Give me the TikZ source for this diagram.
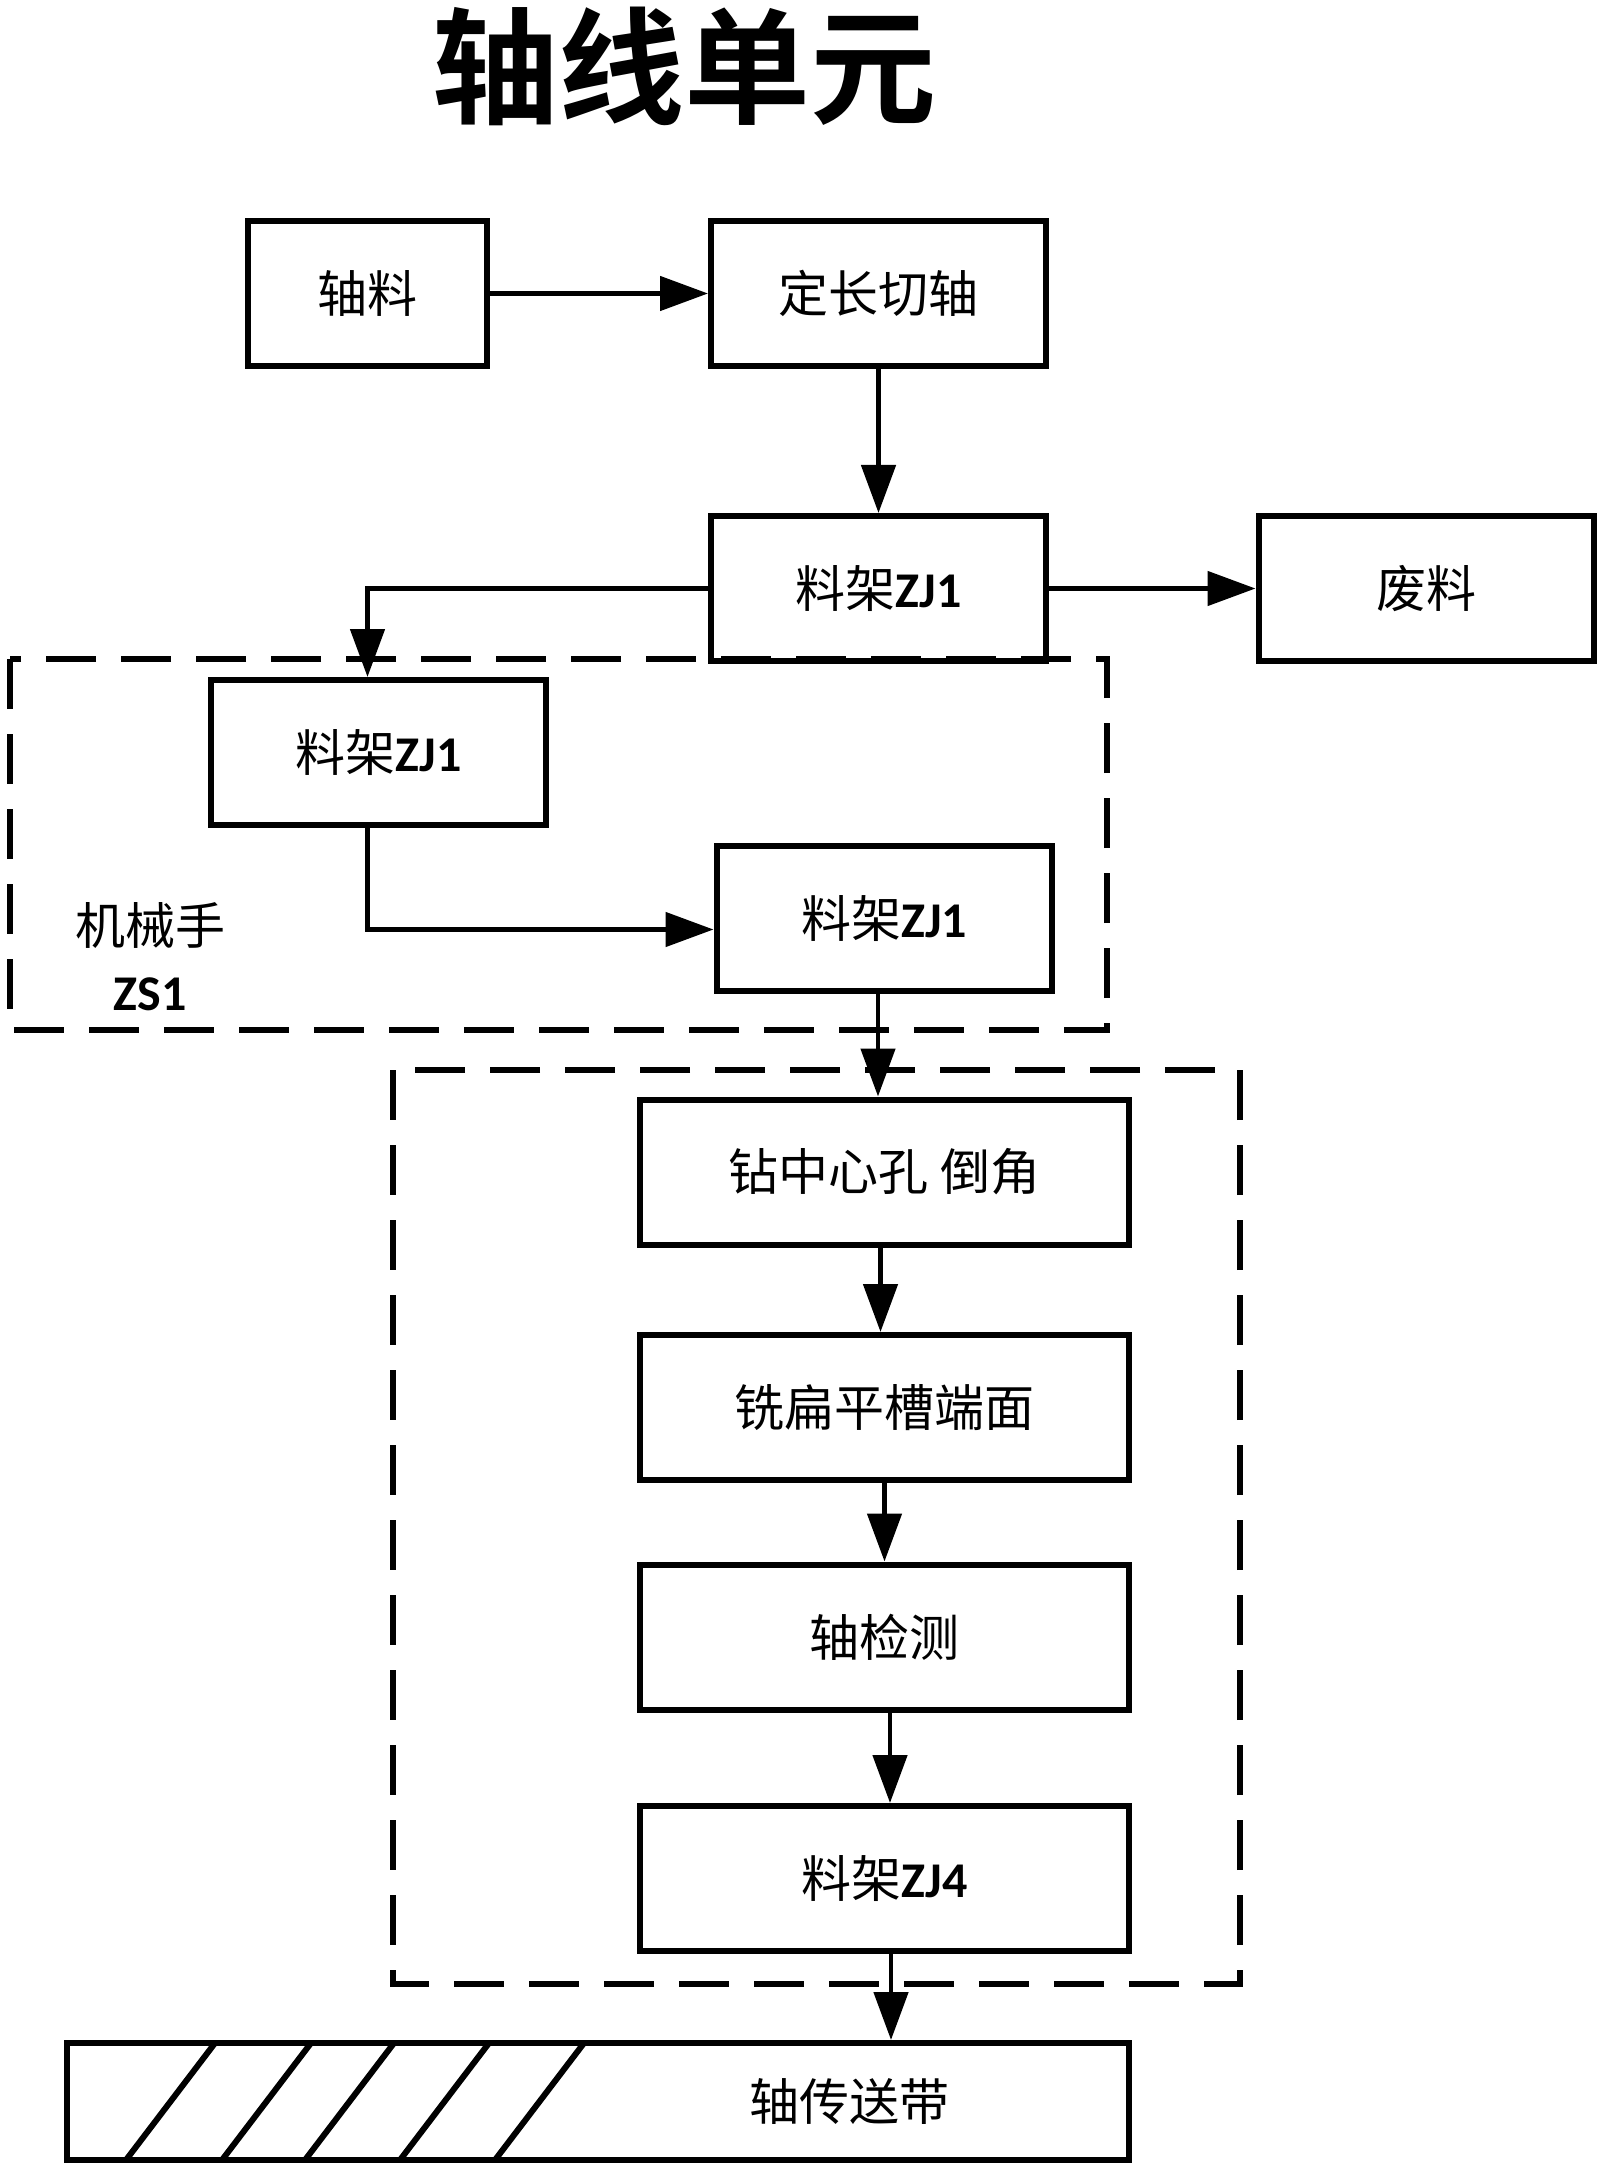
\documentclass[tikz,border=0pt]{standalone}
\usepackage{fontspec}
\setmainfont{Carlito}
\newfontfamily\cjk{Noto Sans CJK SC}[BoldFont={Noto Sans CJK SC Bold}]
\usetikzlibrary{arrows.meta,calc}
\newcommand{\lat}[1]{{\rmfamily\bfseries #1}}
\tikzset{
  box/.style={draw, line width=3pt, inner sep=0pt, minimum width=167.5pt, minimum height=72.5pt,
              font=\cjk\fontsize{25}{30}\selectfont},
  wide/.style={minimum width=244.5pt},
  arr/.style={-{Triangle[length=24pt,width=17pt]}, line width=2.4pt},
  dashbox/.style={line width=3pt, dash pattern=on 25pt off 12.5pt},
  hatch/.style={line width=3pt},
  lbl/.style={inner sep=0pt, font=\cjk\fontsize{25}{33}\selectfont, align=center},
}
\begin{document}
\begin{tikzpicture}[x=0.5pt,y=-0.5pt]
\useasboundingbox (0,0) rectangle (1600,2171);
\fill[white] (0,0) rectangle (1600,2171);

% title
\node[inner sep=0pt, font=\cjk\bfseries\fontsize{63}{70}\selectfont] (title) at (684,66) {轴线单元};

% boxes
\node[box, minimum width=119.5pt] (b1) at (367.5,293.5) {轴料};
\node[box] (b2) at (878.5,293.5) {定长切轴};
\node[box] (b3) at (878.5,588.5) {料架\lat{ZJ1}};
\node[box] (b4) at (1426,588.5) {废料};
\node[box] (b5) at (378.5,752.5) {料架\lat{ZJ1}};
\node[box] (b6) at (884,918.5) {料架\lat{ZJ1}};
\node[box, wide] (b7) at (884.5,1172) {钻中心孔 倒角};
\node[box, wide] (b8) at (884.5,1407.5) {铣扁平槽端面};
\node[box, wide] (b9) at (884.5,1637) {轴检测};
\node[box, wide] (b10) at (884.5,1878.5) {料架\lat{ZJ4}};

% dashed groups
\draw[dashbox] (10,659) rectangle (1107,1030);
\draw[dashbox] (393,1070) rectangle (1240,1984);
\node[lbl] (zs) at (150,957) {机械手\\\lat{ZS1}};

% conveyor
\foreach \a/\b in {126/215, 222/311, 305/394, 400/489, 495/584}
  \draw[hatch] (\a,2160) -- (\b,2043);
\node[draw, line width=3pt, inner sep=0pt, minimum width=531pt, minimum height=58.5pt] (belt) at (598,2101.5) {};
\node[lbl] (belttxt) at (849,2101) {轴传送带};

% connectors
\draw[arr] (b1.east) -- (b2.west);
\draw[arr] (b2.south) -- (b3.north);
\draw[arr] (b3.east) -- (b4.west);
\draw[arr] (b3.west) -| ([xshift=-5.5pt]b5.north);
\draw[arr] ([xshift=-5.5pt]b5.south) |- ([yshift=-5.5pt]b6.west);
\draw[arr] ([xshift=-3pt]b6.south) -- ([xshift=-3pt]b6.south |- b7.north);
\draw[arr] ([xshift=-2pt]b7.south) -- ([xshift=-2pt]b7.south |- b8.north);
\draw[arr] (b8.south) -- (b9.north);
\draw[arr] ([xshift=2.75pt]b9.south) -- ([xshift=2.75pt]b9.south |- b10.north);
\draw[arr] ([xshift=3.25pt]b10.south) -- ([xshift=3.25pt]b10.south |- belt.north);
\end{tikzpicture}
\end{document}
